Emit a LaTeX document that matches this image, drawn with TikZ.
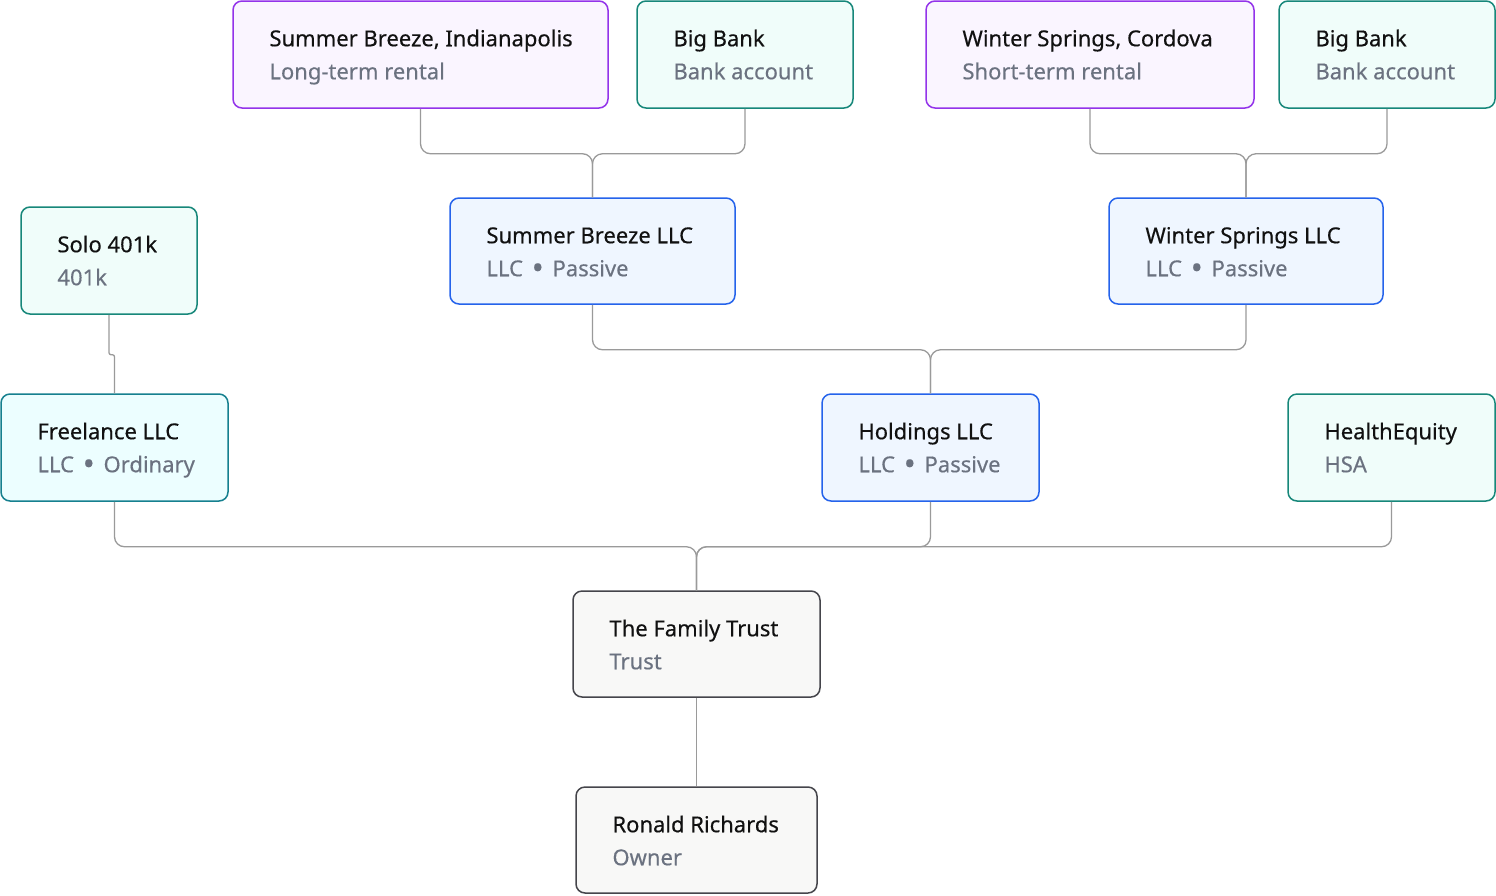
\documentclass[tikz,border=0pt]{standalone}
\usepackage{fontspec}
\usepackage{graphicx}
\setmainfont{Noto Sans}[FakeBold=0.35]
\usetikzlibrary{calc}
\definecolor{purB}{HTML}{9333EA}\definecolor{purF}{HTML}{FAF5FF}
\definecolor{tealB}{HTML}{17877A}\definecolor{tealF}{HTML}{F0FDFA}
\definecolor{cyanB}{HTML}{16808F}\definecolor{cyanF}{HTML}{ECFEFF}
\definecolor{bluB}{HTML}{2563EB}\definecolor{bluF}{HTML}{EFF6FF}
\definecolor{grayB}{HTML}{45454B}\definecolor{grayF}{HTML}{F8F8F7}
\definecolor{subC}{HTML}{6B7280}\definecolor{ttlC}{HTML}{111111}
\definecolor{connC}{HTML}{9A9A9A}
\newcommand\sep{\hspace{0.4em}\raisebox{-0.12em}{\scalebox{1.45}{\textbullet}}\hspace{0.4em}}
\tikzset{
  box/.style={rectangle, rounded corners=9pt, line width=1.5pt, inner sep=0pt},
  purple box/.style={draw=purB, fill=purF},
  teal box/.style={draw=tealB, fill=tealF},
  cyan box/.style={draw=cyanB, fill=cyanF},
  blue box/.style={draw=bluB, fill=bluF},
  gray box/.style={draw=grayB, fill=grayF},
  ttl/.style={anchor=base west, inner sep=0pt, text=ttlC, font=\fontsize{22}{26}\selectfont},
  sub/.style={anchor=base west, inner sep=0pt, text=subC, font=\fontsize{22}{26}\selectfont},
  conn/.style={draw=connC, line width=1.3pt, rounded corners=10pt},
}
\newcommand\ent[8]{%
  \node[box,#6, minimum width={#4-#2}, minimum height={#5-#3}] (#1) at ({(#2+#4)/2},{(#3+#5)/2}) {};
  \node[ttl] (#1-t) at ($(#1.north west)+(37,46)$) {#7};
  \node[sub] (#1-s) at ($(#1.north west)+(37,79)$) {#8};
}
\begin{document}
\begin{tikzpicture}[x=1pt,y=-1pt]
\useasboundingbox (0,0) rectangle (1496,895);
\ent{sbi}{233}{1}{608}{108}{purple box}{Summer Breeze, Indianapolis}{Long-term rental}
\ent{bb1}{637}{1}{853}{108}{teal box}{Big Bank}{Bank account}
\ent{wsc}{926}{1}{1254}{108}{purple box}{Winter Springs, Cordova}{Short-term rental}
\ent{bb2}{1279}{1}{1495}{108}{teal box}{Big Bank}{Bank account}
\ent{solo}{21}{207}{197}{314}{teal box}{Solo 401k}{401k}
\ent{sbl}{450}{198}{735}{304}{blue box}{Summer Breeze LLC}{LLC\sep Passive}
\ent{wsl}{1109}{198}{1383}{304}{blue box}{Winter Springs LLC}{LLC\sep Passive}
\ent{free}{1}{394}{228}{501}{cyan box}{Freelance LLC}{LLC\sep Ordinary}
\ent{hold}{822}{394}{1039}{501}{blue box}{Holdings LLC}{LLC\sep Passive}
\ent{hsa}{1288}{394}{1495}{501}{teal box}{HealthEquity}{HSA}
\ent{trust}{573}{591}{820}{697}{gray box}{The Family Trust}{Trust}
\ent{ron}{576}{787}{817}{893}{gray box}{Ronald Richards}{Owner}
\draw[conn] (sbi.south) -- ++(0,45) -| (sbl.north);
\draw[conn] (bb1.south) -- ++(0,45) -| (sbl.north);
\draw[conn] (wsc.south) -- ++(0,45) -| (wsl.north);
\draw[conn] (bb2.south) -- ++(0,45) -| (wsl.north);
\draw[conn] (sbl.south) -- ++(0,45) -| (hold.north);
\draw[conn] (wsl.south) -- ++(0,45) -| (hold.north);
\draw[conn, rounded corners=2pt] (solo.south) -- ++(0,40) -| (free.north);
\draw[conn] (free.south) -- ++(0,45) -| (trust.north);
\draw[conn] (hold.south) -- ++(0,45) -| (trust.north);
\draw[conn] (hsa.south) -- ++(0,45) -| (trust.north);
\draw[conn] (trust.south) -- (ron.north);
\end{tikzpicture}
\end{document}
